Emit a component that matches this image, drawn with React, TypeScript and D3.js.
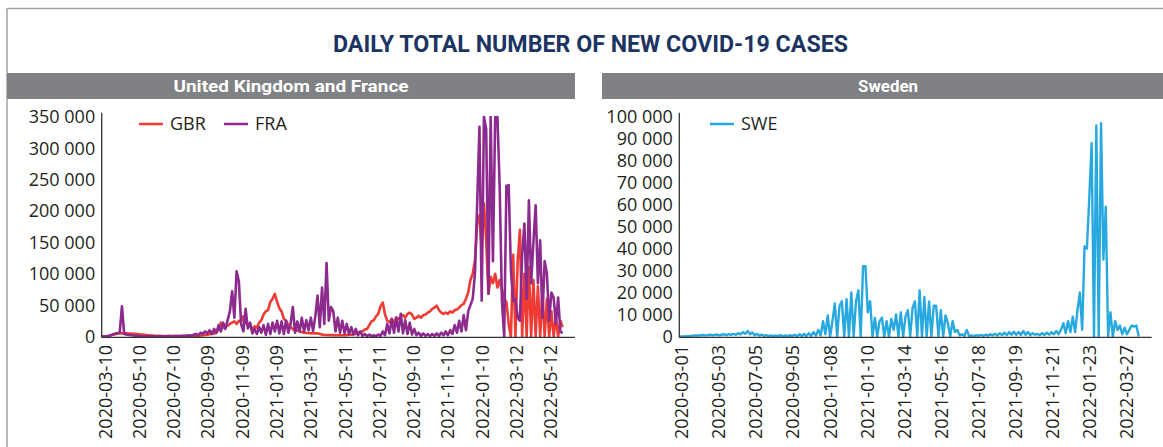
import React from 'react';
import * as d3 from 'd3';

// ---------- Text ----------
const TITLE = 'DAILY TOTAL NUMBER OF NEW COVID-19 CASES';
const PANEL_LEFT = 'United Kingdom and France';
const PANEL_RIGHT = 'Sweden';

// ---------- Data (daily new cases, thousands, sampled every 4 days) ----------
const STEP_DAYS = 4;
const LEFT_START = '2020-03-04';
const RIGHT_START = '2020-02-26';

const gbr = [
  0.1, 0.2, 0.5, 1.0, 1.8, 2.8, 3.8, 4.5, 5.2, 5.0,
  4.8, 5.3, 4.6, 4.9, 4.5, 4.2, 3.8, 3.2, 3.0, 2.6,
  2.2, 1.9, 1.6, 1.5, 1.3, 1.1, 1.0, 0.9, 0.8, 0.8,
  0.7, 0.6, 0.6, 0.6, 0.7, 0.7, 0.8, 0.8, 0.9, 1.0,
  1.1, 1.0, 1.2, 1.3, 1.5, 1.9, 2.5, 3.0, 3.5, 4.0,
  4.5, 6.0, 12, 22, 14, 16, 17, 20, 22, 24,
  20, 25, 24, 32, 22, 18, 17, 12, 16, 14,
  22, 26, 35, 40, 42, 55, 60, 68, 55, 45,
  40, 28, 25, 18, 15, 12, 9, 10, 8, 7,
  6, 5.5, 5.5, 5, 5.5, 5, 5, 4, 3, 2.5,
  2.5, 2.5, 2.2, 2.3, 2.0, 2.0, 2.2, 2.0, 2.5, 2.2,
  2.8, 3, 3.5, 4, 6, 7, 8, 11, 12, 18,
  24, 26, 32, 36, 48, 54, 35, 25, 23, 28,
  22, 30, 28, 32, 34, 30, 36, 38, 35, 28,
  30, 33, 30, 34, 35, 38, 40, 44, 46, 49,
  42, 38, 36, 38, 36, 40, 38, 42, 43, 46,
  50, 52, 60, 70, 90, 100, 121, 180, 193, 138,
  212, 153, 68, 95, 85, 100, 78, 90, 75, 60,
  55, 20, 0, 130, 0, 120, 170, 0, 100, 0,
  110, 0, 90, 0, 80, 0, 70, 0, 60, 0,
  40, 0, 30, 0, 25, 15,
];

const fra = [
  0.05, 0.1, 0.3, 0.9, 1.8, 3.5, 4.5, 5.5, 6, 48,
  4, 3, 2.5, 2, 1.5, 1, 1.5, 0.8, 0.5, 0.5,
  0.3, 0.4, 0.3, 0.5, 0.4, 0.4, 0.5, 0.4, 0.5, 0.5,
  0.6, 0.5, 0.7, 0.6, 0.8, 0.7, 1.2, 1.0, 1.5, 2,
  1, 3, 4, 2, 6, 4, 8, 5, 10, 4,
  12, 6, 18, 8, 22, 12, 26, 40, 72, 30,
  104, 88, 20, 8, 44, 13, 22, 5, 12, 4,
  15, 6, 18, 3, 20, 4, 22, 8, 25, 5,
  24, 4, 25, 6, 20, 47, 6, 24, 8, 30,
  8, 26, 10, 30, 9, 32, 65, 15, 78, 20,
  117, 25, 47, 40, 8, 30, 6, 25, 5, 20,
  4, 15, 3, 12, 2, 8, 1, 4, 0.5, 3,
  0.5, 2, 0.5, 3, 1, 8, 2, 20, 5, 28,
  6, 30, 8, 36, 5, 26, 4, 22, 3, 12,
  2, 6, 1, 5, 1, 4, 0.5, 4, 1, 5,
  1, 6, 2, 8, 2, 10, 4, 18, 6, 25,
  8, 34, 10, 40, 50, 60, 100, 212, 334, 57,
  350, 330, 68, 350, 120, 350, 350, 238, 57, 0,
  240, 241, 105, 57, 60, 30, 25, 130, 180, 60,
  217, 85, 150, 209, 85, 153, 30, 120, 100, 25,
  70, 62, 20, 62, 8, 5,
];

const swe = [
  0.01, 0.02, 0.05, 0.1, 0.15, 0.3, 0.4, 0.5, 0.4, 0.6,
  0.7, 0.5, 0.6, 0.8, 0.6, 0.7, 0.9, 0.5, 0.8, 1.0,
  0.6, 1.1, 0.7, 1.2, 0.8, 1.5, 1.0, 2.0, 1.2, 2.5,
  1.0, 1.8, 0.6, 1.2, 0.4, 0.8, 0.3, 0.6, 0.2, 0.5,
  0.2, 0.5, 0.2, 0.6, 0.1, 0.5, 0.1, 0.6, 0.2, 0.8,
  0.1, 1.0, 0.2, 1.2, 0.2, 1.5, 0.3, 2.0, 0.4, 3.0,
  0.5, 7, 1.0, 9.6, 0, 7, 15, 0, 14, 16,
  0, 17, 0, 20, 0, 16, 21, 0, 32, 32,
  11, 16, 0, 8.5, 0, 7, 8.5, 0, 7, 0,
  8, 3, 10, 0, 11, 0, 9, 12, 0, 13,
  16, 0, 21, 0, 18, 0, 16, 0, 14, 14,
  0, 12, 0, 9.6, 6, 0, 7, 2, 3, 0.5,
  1.0, 0.3, 3, 0.2, 0.5, 0.2, 0.6, 0.3, 0.7, 0.3,
  0.8, 0.4, 1.0, 0.5, 1.2, 0.5, 1.5, 0.6, 1.8, 0.6,
  2.0, 0.8, 2.2, 0.8, 2.0, 0.7, 2.5, 0.8, 2.0, 0.6,
  1.5, 0.8, 1.2, 0.6, 1.5, 0.7, 1.8, 0.8, 2.0, 1.0,
  2.5, 1.0, 3, 6, 1.5, 7, 2, 9, 2, 12,
  20, 3, 41, 40, 63, 88, 0, 96, 0, 97,
  35, 59, 0, 11, 0, 7, 3, 5, 1, 4,
  1, 3, 5, 4.5, 5, 0,
];

// ---------- Ticks ----------
const leftYTicks = [0, 50, 100, 150, 200, 250, 300, 350];
const rightYTicks = [0, 10, 20, 30, 40, 50, 60, 70, 80, 90, 100];
const leftXTicks = [
  '2020-03-10', '2020-05-10', '2020-07-10', '2020-09-09', '2020-11-09',
  '2021-01-09', '2021-03-11', '2021-05-11', '2021-07-11', '2021-09-10',
  '2021-11-10', '2022-01-10', '2022-03-12', '2022-05-12',
];
const rightXTicks = [
  '2020-03-01', '2020-05-03', '2020-07-05', '2020-09-05', '2020-11-08',
  '2021-01-10', '2021-03-14', '2021-05-16', '2021-07-18', '2021-09-19',
  '2021-11-21', '2022-01-23', '2022-03-27',
];
const leftDomain = ['2020-03-04', '2022-06-24'];
const rightDomain = ['2020-02-26', '2022-05-08'];

const COLORS = { GBR: '#ee3b33', FRA: '#8c2a8e', SWE: '#27a9e0' };

const parse = d3.utcParse('%Y-%m-%d');
const fmt = (k: number) => d3.format(',')(k * 1000).replace(/,/g, ' ');

type Pt = { date: Date; value: number };
const toPoints = (start: string, vals: number[]): Pt[] =>
  vals.map((v, i) => ({ date: d3.utcDay.offset(parse(start)!, i * STEP_DAYS), value: v }));

const FONT = "'Open Sans', 'Liberation Sans', sans-serif";
const TEXT_COL = '#231f20';

function Panel(props: {
  x0: number; x1: number; y0: number; yTop: number;
  xDomain: string[]; yMax: number; yTicks: number[]; xTicks: string[];
  series: { name: string; start: string; values: number[]; color: string }[];
  legendX: number; clipId: string; lineWidth: number;
}) {
  const { x0, x1, y0, yTop, xDomain, yMax, yTicks, xTicks, series, legendX, clipId, lineWidth } = props;
  const x = d3.scaleUtc().domain(xDomain.map((s) => parse(s)!)).range([x0, x1]);
  const y = d3.scaleLinear().domain([0, yMax]).range([y0, yTop]);
  const line = d3.line<Pt>().x((d) => x(d.date)).y((d) => y(d.value)).curve(d3.curveLinear);
  return (
    <g>
      <defs>
        <clipPath id={clipId}>
          <rect x={x0} y={yTop - 1} width={x1 - x0} height={y0 - yTop + 4} />
        </clipPath>
      </defs>
      {yTicks.map((t) => (
        <text key={t} x={x0 - 6.5} y={y(t)} dy="0.36em" textAnchor="end"
          fontFamily={FONT} fontSize={18} fill={TEXT_COL}>{fmt(t)}</text>
      ))}
      {xTicks.map((t) => (
        <text key={t} transform={`translate(${x(parse(t)!)},345) rotate(-90)`} dy="0.36em"
          textAnchor="end" fontFamily={FONT} fontSize={18} fill={TEXT_COL}>{t}</text>
      ))}
      <g clipPath={`url(#${clipId})`}>
        {series.map((s) => (
          <path key={s.name} d={line(toPoints(s.start, s.values)) || ''} fill="none"
            stroke={s.color} strokeWidth={lineWidth} strokeLinejoin="round" />
        ))}
      </g>
      <line x1={x0} x2={x0} y1={yTop - 4} y2={y0 + 1} stroke="#333" strokeWidth={1.3} />
      <line x1={x0} x2={x1} y1={y0 + 0.8} y2={y0 + 0.8} stroke="#333" strokeWidth={1.3} />
      {series.map((s, i) => (
        <g key={s.name} transform={`translate(${legendX + i * 85},124)`}>
          <line x1={0} x2={24} y1={0} y2={0} stroke={s.color} strokeWidth={2.5} />
          <text x={31} y={0} dy="0.36em" fontFamily={FONT} fontSize={18} fill={TEXT_COL}>{s.name}</text>
        </g>
      ))}
    </g>
  );
}

export default function App() {
  return (
    <svg width={1163} height={447} style={{ position: 'absolute', left: 0, top: 0, display: 'block', background: '#fff' }}>
      <rect x={0} y={0} width={1163} height={447} fill="#fff" />
      <line x1={7} x2={1163} y1={8.5} y2={8.5} stroke="#a3a3a3" strokeWidth={1.5} />
      <line x1={7} x2={7} y1={8} y2={447} stroke="#a3a3a3" strokeWidth={1.5} />
      <text x={590.5} y={52} textAnchor="middle" fontFamily="Roboto, 'DejaVu Sans', sans-serif"
        fontWeight={700} fontSize={24} fill="#1c3461" textLength={515} lengthAdjust="spacingAndGlyphs">{TITLE}</text>
      <rect x={7} y={73} width={568} height={26} fill="#808184" />
      <rect x={602} y={73} width={561} height={26} fill="#808184" />
      <text x={291} y={92} textAnchor="middle" fontFamily="Roboto, sans-serif" fontWeight={700}
        fontSize={17} fill="#fff" textLength={235} lengthAdjust="spacingAndGlyphs">{PANEL_LEFT}</text>
      <text x={888} y={92} textAnchor="middle" fontFamily="Roboto, sans-serif" fontWeight={700}
        fontSize={17} fill="#fff" textLength={60} lengthAdjust="spacingAndGlyphs">{PANEL_RIGHT}</text>
      <Panel x0={101.7} x1={575} y0={336.5} yTop={116.7} xDomain={leftDomain} yMax={350}
        yTicks={leftYTicks} xTicks={leftXTicks} legendX={139} clipId="clipL" lineWidth={2.6}
        series={[
          { name: 'GBR', start: LEFT_START, values: gbr, color: COLORS.GBR },
          { name: 'FRA', start: LEFT_START, values: fra, color: COLORS.FRA },
        ]} />
      <Panel x0={679.3} x1={1151.7} y0={336.5} yTop={116.7} xDomain={rightDomain} yMax={100}
        yTicks={rightYTicks} xTicks={rightXTicks} legendX={710} clipId="clipR" lineWidth={2.4}
        series={[{ name: 'SWE', start: RIGHT_START, values: swe, color: COLORS.SWE }]} />
    </svg>
  );
}
